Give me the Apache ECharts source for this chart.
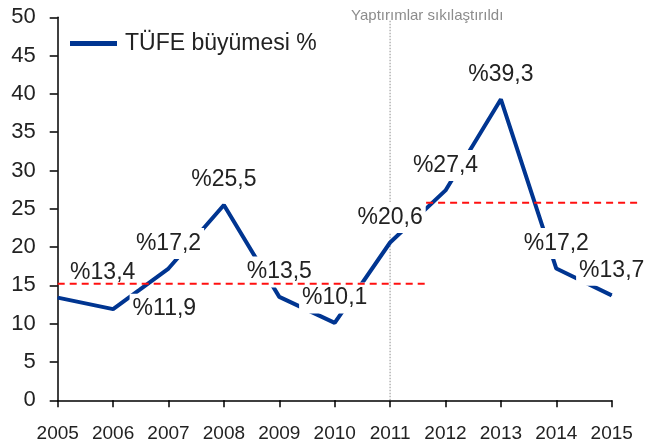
<!DOCTYPE html>
<html>
<head>
<meta charset="utf-8">
<script src="https://cdn.jsdelivr.net/npm/echarts@6/dist/echarts.min.js"></script>
<style>
	html, body { margin: 0; padding: 0; background: #fff; }
	#chart { width: 662px; height: 445px; }
</style>
</head>
<body>
<div id="chart"></div>
<script>
	// yillar ve TÜFE degerleri
	var years = [2005, 2006, 2007, 2008, 2009, 2010, 2011, 2012, 2013, 2014, 2015];
	var tufe = [13.4, 11.9, 17.2, 25.5, 13.5, 10.1, 20.6, 27.4, 39.3, 17.2, 13.7];

	// ortalama cizgileri: [baslangic, bitis, deger]
	var avgBefore = [2005, 2011.65, 15.2];
	var avgAfter = [2011.65, 2015.5, 25.8];

	// yaptirim cizgisi
	var eventYear = 2011;
	var eventTop = 49.6;
	var eventText = 'Yaptırımlar sıkılaştırıldı';
	var seriesName = 'TÜFE büyümesi %';

	var FONT = '"Liberation Sans", Arial, sans-serif';

	// ozel etiket yerlesimleri (index -> label)
	var labelOverride = {
		0: { position: 'top', offset: [45, 0] },
		1: { position: 'right', distance: 16 }
	};

	var lineData = years.map(function(y, i) {
		var item = { value: [y, tufe[i]] };
		if(labelOverride[i]) {
			item.label = labelOverride[i];
		}
		return item;
	});

	var chart = echarts.init(document.getElementById('chart'));

	// kesikli kirmizi cizgi, eksen disina tasabilir
	function dashedRender(params, api) {
		var p1 = api.coord([api.value(0), api.value(2)]);
		var p2 = api.coord([api.value(1), api.value(2)]);
		return {
			type: 'line',
			shape: { x1: p1[0], y1: p1[1], x2: p2[0], y2: p2[1] },
			style: { stroke: '#ff1010', lineWidth: 2, lineDash: [7, 5] }
		};
	}

	var option = {
		animation: false,
		grid: {
			left: 57.7,
			right: 50.3,
			top: 17.3,
			bottom: 44.7,
			outerBoundsMode: 'none'
		},
		legend: {
			left: 65,
			top: 27,
			data: [seriesName],
			icon: 'rect',
			itemWidth: 47,
			itemHeight: 5,
			textStyle: {
				fontFamily: FONT,
				fontSize: 23,
				color: '#222',
				padding: [0, 0, 0, 3]
			}
		},
		xAxis: {
			type: 'value',
			min: 2005,
			max: 2015,
			interval: 1,
			splitLine: { show: false },
			axisLine: { lineStyle: { color: '#000', width: 1.5 } },
			axisTick: { show: true, length: 7, lineStyle: { color: '#000', width: 1.5 } },
			axisLabel: {
				margin: 24,
				fontFamily: FONT,
				fontSize: 19,
				color: '#222',
				formatter: function(v) { return String(v); }
			}
		},
		yAxis: {
			type: 'value',
			min: 0,
			max: 50,
			interval: 5,
			splitLine: { show: false },
			axisLine: { show: true, lineStyle: { color: '#000', width: 1.5 } },
			axisTick: { show: true, length: 8, lineStyle: { color: '#000', width: 1.5 } },
			axisLabel: {
				margin: 22,
				fontFamily: FONT,
				fontSize: 22,
				color: '#222'
			}
		},
		series: [
			{
				// yaptirim dikey cizgisi
				type: 'line',
				z: 1,
				silent: true,
				symbol: 'none',
				data: [[eventYear, 0], [eventYear, eventTop]],
				lineStyle: { color: '#b4b4b4', width: 1.5, type: 'dotted' }
			},
			{
				name: seriesName,
				type: 'line',
				z: 2,
				symbol: 'circle',
				symbolSize: 1,
				itemStyle: { color: '#003591' },
				lineStyle: { color: '#003591', width: 4 },
				data: lineData,
				label: {
					show: true,
					position: 'top',
					distance: 9,
					fontFamily: FONT,
					fontSize: 23,
					lineHeight: 25,
					color: '#222',
					backgroundColor: '#fff',
					padding: [3, 3, 3, 3],
					formatter: function(p) {
						return '%' + p.value[1].toFixed(1).replace('.', ',');
					}
				}
			},
			{
				type: 'custom',
				z: 5,
				silent: true,
				clip: false,
				renderItem: dashedRender,
				data: [avgBefore, avgAfter]
			}
		]
	};

	chart.setOption(option);

	// yaptirim etiketi, dikey cizginin ustunde
	var topPt = chart.convertToPixel({ gridIndex: 0 }, [eventYear, 50]);
	chart.setOption({
		graphic: [{
			type: 'text',
			left: topPt[0] - 39,
			top: 8,
			silent: true,
			style: {
				text: eventText,
				fontFamily: FONT,
				fontSize: 15,
				fill: '#8c8c8c'
			}
		}]
	});
</script>
</body>
</html>
